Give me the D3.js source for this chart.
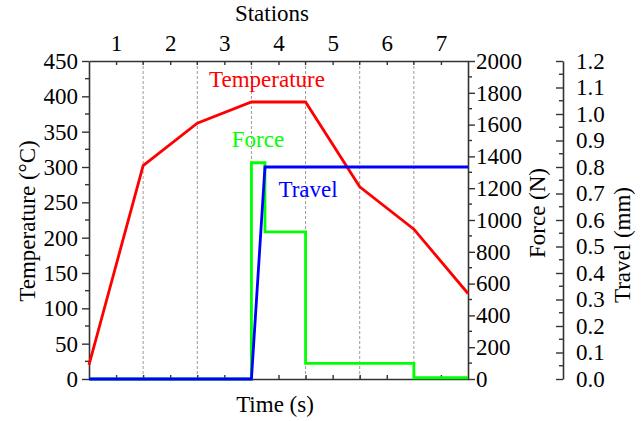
<!DOCTYPE html>
<html>
<head>
<meta charset="utf-8">
<script src="https://cdn.jsdelivr.net/npm/d3@7"></script>
<style>
  html, body { margin: 0; padding: 0; background: #fff; }
</style>
</head>
<body>
<svg id="chart" width="642" height="421"></svg>
<script>
// Process data: time in station units (0..7)
const stations = ["1", "2", "3", "4", "5", "6", "7"];
const tempTime = [0, 1, 2, 3, 4, 5, 6, 7];
const tempValues = [20, 302, 362, 392, 392, 272, 212, 121];
const forceTime = [0, 3, 3, 3.25, 3.25, 4, 4, 6, 6, 7];
const forceValues = [0, 0, 1360, 1360, 925, 925, 98, 98, 8, 8];
const travelTime = [0, 3, 3.25, 7];
const travelValues = [0, 0, 0.8, 0.8];

const tempTicks = d3.range(0, 451, 50);
const forceTicks = d3.range(0, 2001, 200);
const travelTicks = d3.range(0, 1.21, 0.1).map(v => +v.toFixed(1));

const FONT = "Liberation Serif";
const svg = d3.select("#chart");
const m = { left: 89, right: 468, top: 61, bottom: 379 };
const axis3X = 563;

const x = d3.scaleLinear().domain([0, 7]).range([m.left, m.right]);
const yT = d3.scaleLinear().domain([0, 450]).range([m.bottom, m.top]);
const yF = d3.scaleLinear().domain([0, 2000]).range([m.bottom, m.top]);
const yD = d3.scaleLinear().domain([0, 1.2]).range([m.bottom, m.top]);

const tickFont = 23, titleFont = 23;
const axisColor = "#333";

// Station boundaries
svg.append("g").selectAll("line")
  .data(d3.range(1, 7))
  .join("line")
  .attr("x1", d => x(d)).attr("x2", d => x(d))
  .attr("y1", m.top).attr("y2", m.bottom)
  .attr("stroke", "#9a9a9a").attr("stroke-width", 1)
  .attr("stroke-dasharray", "3,2");

function styleAxis(g) {
  g.attr("font-family", FONT).attr("font-size", tickFont);
  g.select(".domain").attr("stroke", axisColor).attr("stroke-width", 1.6);
  g.selectAll(".tick line").attr("stroke", axisColor).attr("stroke-width", 1.4);
  g.selectAll("text").attr("fill", "#000");
}

// Minor tick helper
function minorTicks(scale, values, xPos, dir, len) {
  svg.append("g").selectAll("line").data(values).join("line")
    .attr("x1", xPos).attr("x2", xPos + dir * len)
    .attr("y1", d => scale(d)).attr("y2", d => scale(d))
    .attr("stroke", axisColor).attr("stroke-width", 1.4);
}

// Left axis: temperature
const gL = svg.append("g").attr("transform", `translate(${m.left},0)`)
  .call(d3.axisLeft(yT).tickValues(tempTicks).tickSize(7).tickSizeOuter(0).tickPadding(4).tickFormat(d3.format("d")));
styleAxis(gL);
minorTicks(yT, d3.range(25, 450, 50), m.left, -1, 4);

// Right axis: force
const gR = svg.append("g").attr("transform", `translate(${m.right},0)`)
  .call(d3.axisRight(yF).tickValues(forceTicks).tickSize(7).tickSizeOuter(0).tickPadding(1).tickFormat(d3.format("d")));
styleAxis(gR);
minorTicks(yF, d3.range(100, 2000, 200), m.right, 1, 4);

// Offset axis: travel
const gD = svg.append("g").attr("transform", `translate(${axis3X},0)`)
  .call(d3.axisLeft(yD).tickValues(travelTicks).tickSize(7).tickSizeOuter(0).tickFormat(d3.format(".1f")));
styleAxis(gD);
gD.selectAll(".tick text").attr("text-anchor", "start").attr("x", 13);
minorTicks(yD, d3.range(0.05, 1.2, 0.1), axis3X, -1, 4);

// Top axis: stations
const gTop = svg.append("g").attr("transform", `translate(0,${m.top})`)
  .call(d3.axisTop(x).tickValues(d3.range(0.5, 7, 1)).tickFormat((d, i) => stations[i])
    .tickSize(-4).tickSizeOuter(0).tickPadding(10));
styleAxis(gTop);
svg.append("g").selectAll("line").data(d3.range(1, 7)).join("line")
  .attr("x1", d => x(d)).attr("x2", d => x(d))
  .attr("y1", m.top).attr("y2", m.top + 4)
  .attr("stroke", axisColor).attr("stroke-width", 1.4);

// Bottom axis: time
const gBot = svg.append("g").attr("transform", `translate(0,${m.bottom})`)
  .call(d3.axisBottom(x).tickValues(d3.range(0.5, 7, 0.5)).tickFormat("").tickSize(-4).tickSizeOuter(0));
styleAxis(gBot);

// Axis titles
const title = (t) => svg.append("text").attr("font-family", FONT).attr("font-size", titleFont)
  .attr("text-anchor", "middle").text(t);
title("Stations").attr("x", 272).attr("y", 21);
title("Time (s)").attr("x", 275).attr("y", 412);
title("Temperature (°C)").attr("transform", "translate(35,221) rotate(-90)");
title("Force (N)").attr("transform", "translate(545,213) rotate(-90)");
title("Travel (mm)").attr("transform", "translate(630,245) rotate(-90)");

// Series lines
const line = (xs, ys, yScale) => d3.line().x((d, i) => x(xs[i])).y((d, i) => yScale(ys[i]))(ys);

svg.append("path").attr("d", line(forceTime, forceValues, yF))
  .attr("fill", "none").attr("stroke", "#00ff00").attr("stroke-width", 2.8);
svg.append("path").attr("d", line(tempTime, tempValues, yT))
  .attr("fill", "none").attr("stroke", "#ff0000").attr("stroke-width", 2.8);
svg.append("path").attr("d", line(travelTime, travelValues, yD))
  .attr("fill", "none").attr("stroke", "#0000ff").attr("stroke-width", 2.8);

// Series labels
title("Temperature").attr("x", 267).attr("y", 87).attr("fill", "#ff0000");
title("Force").attr("x", 258).attr("y", 147).attr("fill", "#00ff00");
title("Travel").attr("x", 308).attr("y", 197).attr("fill", "#0000ff");
</script>
</body>
</html>
